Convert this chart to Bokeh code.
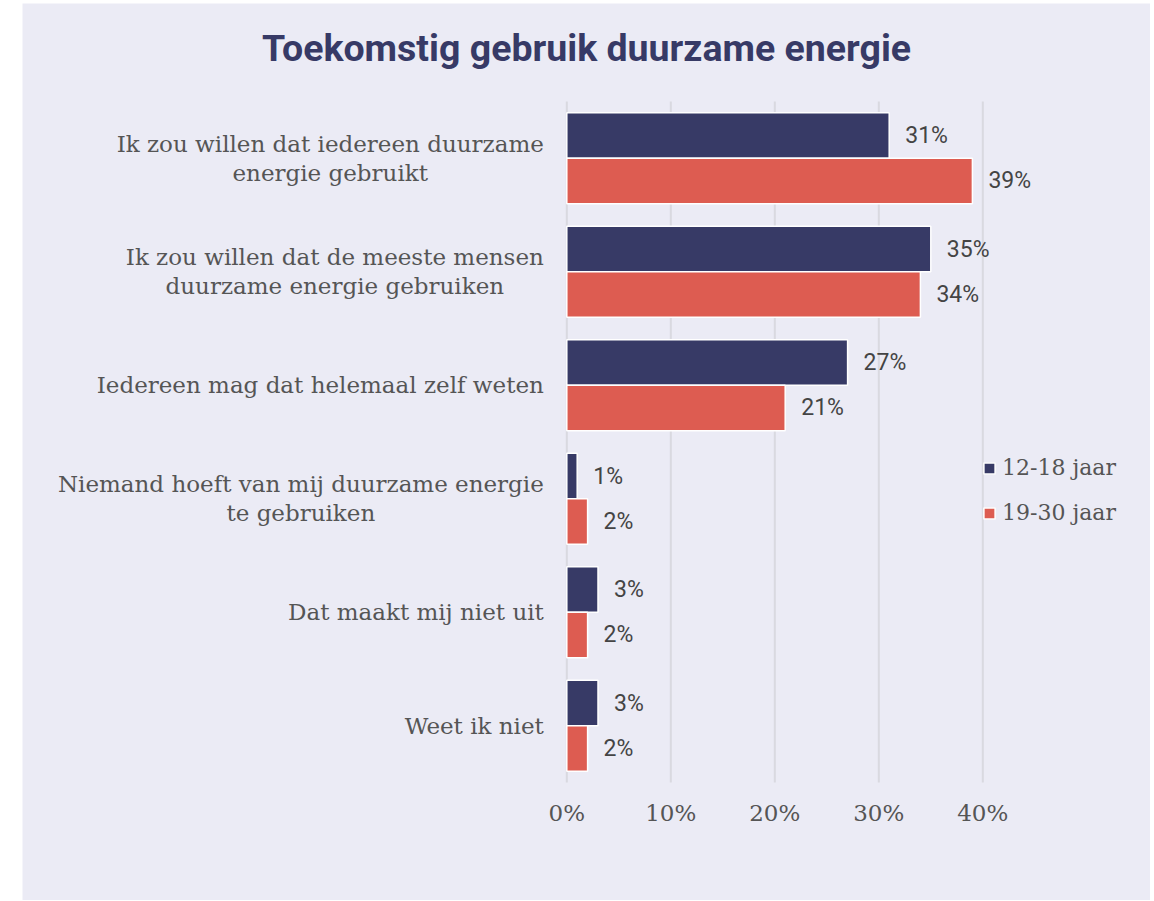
from bokeh.plotting import figure
from bokeh.models import (Range1d, ColumnDataSource, Legend,
                          LegendItem, Label, Spacer)
from bokeh.layouts import row, column
from bokeh.core.properties import value
from bokeh.embed import file_html
from bokeh.resources import INLINE

# ---------------- data ----------------
categories = [
    "Ik zou willen dat iedereen duurzame\nenergie gebruikt",
    "Ik zou willen dat de meeste mensen\nduurzame energie gebruiken",
    "Iedereen mag dat helemaal zelf weten",
    "Niemand hoeft van mij duurzame energie\nte gebruiken",
    "Dat maakt mij niet uit",
    "Weet ik niet",
]
series = ["12-18 jaar", "19-30 jaar"]
values_12_18 = [31, 35, 27, 1, 3, 3]
values_19_30 = [39, 34, 21, 2, 2, 2]
x_ticks = [0, 10, 20, 30, 40]
x_tick_labels = ["0%", "10%", "20%", "30%", "40%"]
title_text = "Toekomstig gebruik duurzame energie"

# ---------------- style ----------------
BG = "#ebebf5"
NAVY = "#373a66"
RED = "#dd5c51"
GRID = "#d9d9e0"
LABEL_C = "#555555"
SERIF = "DejaVu Serif"
SERIF_SIZE = 23

W, H = 1128, 897
BOTTOM_SPACE = 118            # px below the bar area
ZERO_X = 544.3                # px from left edge to the 0% line
PX_PER_UNIT = 10.4            # px per percentage point
GROUPS_TOP = 98               # px from top edge to the top of the first group
n = len(categories)
area_h = H - BOTTOM_SPACE
unit_y = (area_h - GROUPS_TOP) / n

p = figure(width=W, height=H, output_backend="svg", toolbar_location=None,
           x_range=Range1d(-ZERO_X / PX_PER_UNIT, (W - ZERO_X) / PX_PER_UNIT),
           y_range=Range1d(-BOTTOM_SPACE / unit_y, area_h / unit_y),
           min_border_left=0, min_border_right=0, min_border_top=0,
           min_border_bottom=0,
           background_fill_color=BG, border_fill_color=BG, outline_line_color=None)

# grid lines (only across the bar area)
p.segment(x0=x_ticks, y0=[0] * len(x_ticks), x1=x_ticks, y1=[n] * len(x_ticks),
          line_color=GRID, line_width=2)

# tick labels
p.text(x=x_ticks, y=[0] * len(x_ticks), text=x_tick_labels, y_offset=30,
       text_align="center", text_baseline="middle", text_font=value(SERIF),
       text_font_size=f"{SERIF_SIZE}px", text_color=LABEL_C)

centers = [n - 0.5 - i for i in range(n)]
bar_h = 0.4
src = ColumnDataSource(dict(
    y1=[c + bar_h / 2 for c in centers],
    y2=[c - bar_h / 2 for c in centers],
    v1=values_12_18,
    v2=values_19_30,
    l1=[f"{v}%" for v in values_12_18],
    l2=[f"{v}%" for v in values_19_30],
))

r1 = p.hbar(y="y1", left=0, right="v1", height=bar_h, fill_color=NAVY,
            line_color="white", line_width=1.5, source=src)
r2 = p.hbar(y="y2", left=0, right="v2", height=bar_h, fill_color=RED,
            line_color="white", line_width=1.5, source=src)

for xf, yf, tf in (("v1", "y1", "l1"), ("v2", "y2", "l2")):
    p.text(x=xf, y=yf, text=tf, source=src, x_offset=16, text_baseline="middle",
           text_align="left", text_font=value("Roboto"), text_font_size="23px",
           text_color="#444444")


def text_width(s, size):
    try:
        from PIL import ImageFont
        f = ImageFont.truetype("DejaVuSerif.ttf", size)
        return float(f.getlength(s))
    except Exception:
        return 0.55 * size * len(s)


# category labels (right-aligned block, lines centred within the block)
LINE_H = 29
GAP = 23
r_y, r_t, r_off = [], [], []
c_y, c_t, c_off, c_xoff = [], [], [], []
for cat, cy in zip(categories, centers):
    lines = cat.split("\n")
    if len(lines) == 1:
        r_y.append(cy); r_t.append(lines[0]); r_off.append(0)
    else:
        w1 = text_width(lines[0], SERIF_SIZE)
        r_y.append(cy); r_t.append(lines[0]); r_off.append(-LINE_H / 2)
        c_y.append(cy); c_t.append(lines[1]); c_off.append(LINE_H / 2)
        c_xoff.append(-GAP - w1 / 2)

common = dict(text_baseline="middle", text_font=value(SERIF),
              text_font_size=f"{SERIF_SIZE}px", text_color=LABEL_C)
p.text(x=0, y="y", text="t", y_offset="o", x_offset=-GAP, text_align="right",
       source=ColumnDataSource(dict(y=r_y, t=r_t, o=r_off)), **common)
p.text(x=0, y="y", text="t", y_offset="o", x_offset="xo", text_align="center",
       source=ColumnDataSource(dict(y=c_y, t=c_t, o=c_off, xo=c_xoff)), **common)

# axes hidden (labels drawn above)
p.xaxis.visible = False
p.yaxis.visible = False
p.xgrid.visible = False
p.ygrid.visible = False

# legend
legend = Legend(items=[LegendItem(label=series[0], renderers=[r1]),
                       LegendItem(label=series[1], renderers=[r2])],
                location=(960, 257 + BOTTOM_SPACE), padding=0, margin=0, spacing=20,
                glyph_width=14, glyph_height=14, label_standoff=6,
                label_text_font=SERIF, label_text_font_size=f"{SERIF_SIZE - 1}px",
                label_text_color=LABEL_C, border_line_color=None,
                background_fill_alpha=0)
p.add_layout(legend, "center")

# title
p.add_layout(Label(x=564, y=H - 44, x_units="screen", y_units="screen",
                   text=title_text, text_align="center", text_baseline="alphabetic",
                   text_font="Roboto", text_font_style="bold", text_font_size="37.5px",
                   text_color=NAVY))

layout = column(Spacer(width=10, height=3), row(Spacer(width=22, height=H), p))
open("out.html", "w").write(file_html(layout, INLINE))
